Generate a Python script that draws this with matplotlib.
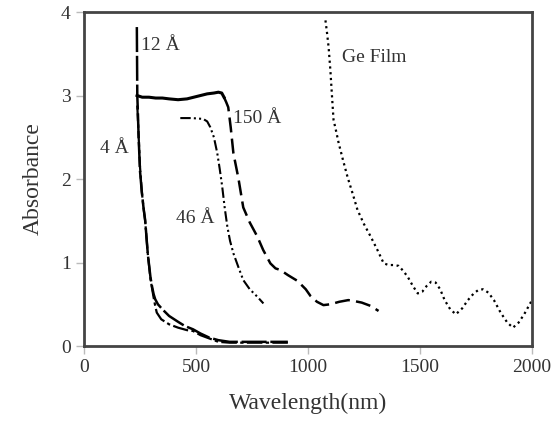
import numpy as np
import matplotlib as mpl
mpl.use('Agg')
import matplotlib.pyplot as plt  # noqa

plt.rcParams['font.family'] = ['Liberation Serif', 'DejaVu Serif']

# 12 A film
wl_12 = [236, 237, 238, 240, 244, 250, 258, 266, 273, 285, 297, 304, 311,
         318, 330, 350, 380, 420, 450, 487, 520, 560, 600, 650, 720, 800,
         870, 910]
ab_12 = [3.82, 3.40, 3.00, 2.85, 2.50, 2.10, 1.85, 1.65, 1.51, 1.10, 0.82,
         0.71, 0.62, 0.56, 0.50, 0.44, 0.36, 0.29, 0.24, 0.20, 0.15, 0.10,
         0.07, 0.05, 0.05, 0.05, 0.05, 0.05]

# 4 A film
wl_4 = [238, 241, 245, 250, 258, 266, 273, 285, 297, 304, 311, 318, 325,
        345, 380, 420, 460, 487, 520, 560, 600, 650, 720, 800, 870, 910]
ab_4 = [2.88, 2.70, 2.45, 2.15, 1.85, 1.65, 1.50, 1.10, 0.80, 0.69, 0.58,
        0.48, 0.40, 0.32, 0.26, 0.22, 0.19, 0.18, 0.13, 0.09, 0.05, 0.04,
        0.04, 0.04, 0.04, 0.04]

# 150 A film
wl_150 = [237, 260, 290, 320, 350, 380, 420, 460, 490, 520, 550, 580, 600,
          615, 625, 635, 644, 655, 667, 690, 711, 740, 774, 800, 832, 855,
          877, 910, 953, 990, 1011, 1040, 1069, 1100, 1140, 1180, 1204, 1240,
          1280, 1315]
ab_150 = [3.00, 2.98, 2.98, 2.97, 2.97, 2.96, 2.95, 2.96, 2.98, 3.00, 3.02,
          3.03, 3.04, 3.03, 2.98, 2.92, 2.86, 2.62, 2.31, 2.00, 1.66, 1.48,
          1.31, 1.15, 0.99, 0.93, 0.91, 0.85, 0.78, 0.68, 0.60, 0.53, 0.49,
          0.50, 0.53, 0.55, 0.54, 0.52, 0.48, 0.42]

# 46 A film
wl_46 = [430, 480, 532, 550, 564, 580, 595, 606, 617, 628, 640, 652, 667,
         690, 711, 740, 774, 801]
ab_46 = [2.73, 2.73, 2.72, 2.69, 2.62, 2.50, 2.31, 2.12, 1.91, 1.66, 1.43,
         1.26, 1.11, 0.94, 0.79, 0.68, 0.59, 0.51]

# Ge film
wl_ge = [1078, 1085, 1092, 1100, 1107, 1114, 1125, 1137, 1157, 1177, 1200,
         1221, 1250, 1280, 1310, 1338, 1360, 1382, 1405, 1425, 1445, 1468,
         1490, 1510, 1530, 1550, 1570, 1590, 1610, 1635, 1660, 1688, 1714,
         1740, 1760, 1781, 1805, 1830, 1860, 1890, 1915, 1940, 1965, 2000]
ab_ge = [3.90, 3.75, 3.58, 3.30, 3.00, 2.71, 2.58, 2.43, 2.22, 2.02, 1.82,
         1.63, 1.46, 1.31, 1.15, 0.99, 0.97, 0.97, 0.96, 0.90, 0.83, 0.72,
         0.63, 0.65, 0.72, 0.77, 0.76, 0.68, 0.55, 0.44, 0.38, 0.45, 0.55,
         0.63, 0.67, 0.68, 0.64, 0.55, 0.40, 0.28, 0.22, 0.28, 0.38, 0.55]

labels = ['12 Å', '4 Å', '150 Å', '46 Å', 'Ge Film']
label_pos = [(255, 3.6), (70, 2.37), (665, 2.73), (410, 1.53), (1150, 3.46)]

fig = plt.figure(figsize=(5.58, 4.30), dpi=100)
ax = fig.add_axes([0.1505, 0.1953, 0.8029, 0.7767])

ax.plot(wl_12, ab_12, color='black', lw=1.8, ls=(0, (10, 1.5)))
ax.plot(wl_4, ab_4, color='black', lw=1.6, ls=(0, (7, 1.5, 1.5, 1.5)))

# 150 A: dense near-solid plateau, then dashed fall-off
wl_150 = np.array(wl_150)
ab_150 = np.array(ab_150)
n_flat = int((wl_150 <= 625).sum())
ax.plot(wl_150[:n_flat], ab_150[:n_flat], color='black', lw=2.2)
ax.plot(wl_150[n_flat - 1:], ab_150[n_flat - 1:], color='black', lw=1.8,
        ls=(0, (6, 2.5)))

ax.plot(wl_46, ab_46, color='black', lw=1.5,
        ls=(0, (5, 1.5, 1, 1.5, 1, 1.5)))
ax.plot(wl_ge, ab_ge, color='black', lw=1.6, ls=(0, (1, 1.6)))

for text, (x, y) in zip(labels, label_pos):
    ax.text(x, y, text, fontsize=14, color='#333333', va='center',
            ha='left')

ax.set_xlim(0, 2000)
ax.set_ylim(0, 4)
ax.set_xticks([0, 500, 1000, 1500, 2000])
ax.set_yticks([0, 1, 2, 3, 4])
ax.tick_params(direction='out', length=6, width=1, color='#bbbbbb',
               labelsize=14, labelcolor='#333333')
for s in ax.spines.values():
    s.set_color('#444444')
    s.set_linewidth(2)
ax.set_xlabel('Wavelength(nm)', fontsize=17, color='#333333', labelpad=12)
ax.set_ylabel('Absorbance', fontsize=17, color='#333333', labelpad=12)

fig.savefig('out.png', dpi=100)
